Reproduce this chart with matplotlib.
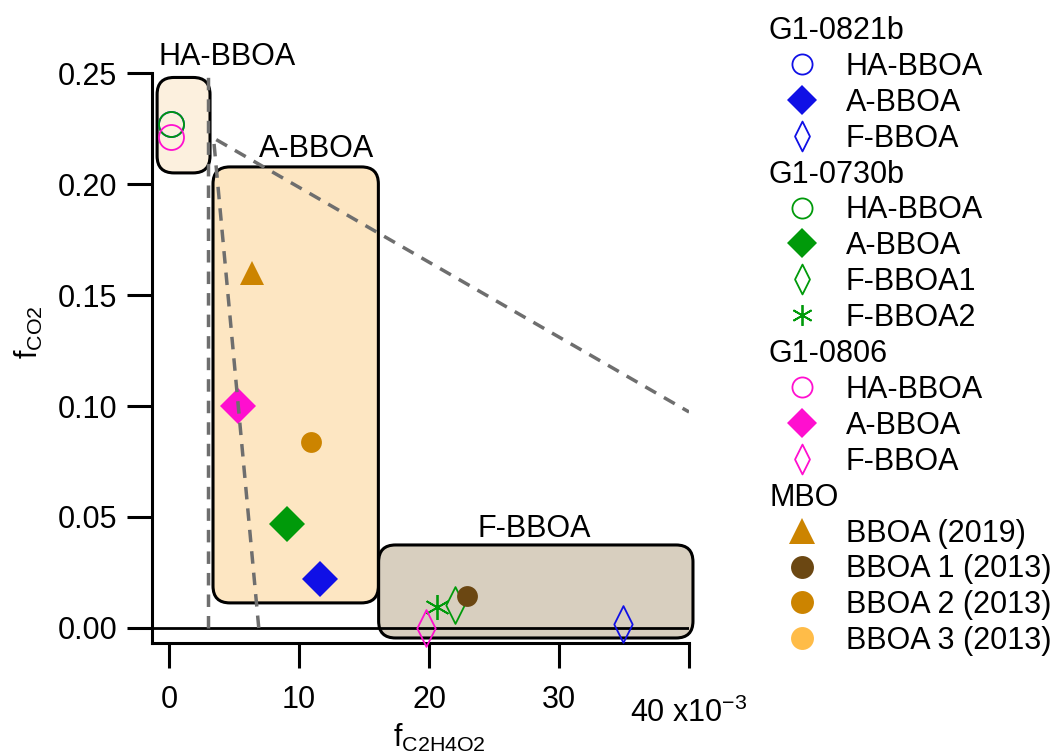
import numpy as np
import matplotlib
matplotlib.use("Agg")
import matplotlib.pyplot as plt
from matplotlib.patches import FancyBboxPatch
from matplotlib.path import Path
from matplotlib.ticker import FixedLocator, FormatStrFormatter

plt.rcParams['font.family'] = ['Liberation Sans', 'DejaVu Sans']
plt.rcParams['mathtext.fontset'] = 'custom'
plt.rcParams['mathtext.rm'] = 'Liberation Sans'
plt.rcParams['mathtext.it'] = 'Liberation Sans:italic'
plt.rcParams['mathtext.bf'] = 'Liberation Sans:bold'

# f_C2H4O2 in units of 10^-3, f_CO2 as fraction
g0821_names = ["HA-BBOA", "A-BBOA", "F-BBOA"]
g0821_x = [0.13, 11.6, 34.9]
g0821_y = [0.227, 0.022, 0.002]

g0730_names = ["HA-BBOA", "A-BBOA", "F-BBOA1", "F-BBOA2"]
g0730_x = [0.13, 9.1, 22.0, 20.6]
g0730_y = [0.227, 0.047, 0.0104, 0.0096]

g0806_names = ["HA-BBOA", "A-BBOA", "F-BBOA"]
g0806_x = [0.13, 5.3, 19.8]
g0806_y = [0.221, 0.100, 0.000]

mbo_names = ["BBOA (2019)", "BBOA 1 (2013)", "BBOA 2 (2013)", "BBOA 3 (2013)"]
mbo_x = [6.4, 22.9, 10.9, np.nan]
mbo_y = [0.160, 0.0144, 0.084, np.nan]

# factor regions: name, x0, x1, y0, y1
region_names = ["HA-BBOA", "A-BBOA", "F-BBOA"]
region_x0 = [-0.92, 3.38, 16.12]
region_x1 = [3.15, 16.1, 40.3]
region_y0 = [0.205, 0.0113, -0.0045]
region_y1 = [0.248, 0.2077, 0.0374]
region_colors = ["#FCF0DE", "#FDE6C2", "#D8CFBF"]

# background line and triangle guides
vline_x = [3.03, 3.03]
vline_y = [0.0, 0.25]
tri_x = [6.9, 3.42, 40.0]
tri_y = [0.0, 0.2207, 0.0973]

xticks = [0, 10, 20, 30, 40]
xticklabels = ["0", "10", "20", "30", r"40 x10$^{-3}$"]
yticks = [0.00, 0.05, 0.10, 0.15, 0.20, 0.25]

blue, green, magenta = "#1010E6", "#009A0A", "#FF0FCF"
mbo_colors = ["#CC8400", "#6B4712", "#CC8400", "#FFBC48"]

thin_diamond = Path([(0, 1), (0.5, 0), (0, -1), (-0.5, 0), (0, 1)],
                    [Path.MOVETO, Path.LINETO, Path.LINETO, Path.LINETO, Path.CLOSEPOLY])


def style(kind, color, legend=False):
    if kind == "open_circle":
        return dict(marker="o", mfc="none", mec=color, ms=14.5 if legend else 18, mew=1.3)
    if kind == "diamond":
        return dict(marker="D", mfc=color, mec=color, ms=15 if legend else 18.5, mew=0)
    if kind == "thin":
        return dict(marker=thin_diamond, mfc="none", mec=color, ms=21.5 if legend else 26.5, mew=1.3)
    if kind == "asterisk":
        return dict(marker=(6, 2, 0), mfc=color, mec=color, ms=15 if legend else 18, mew=1.3)
    if kind == "triangle":
        return dict(marker="^", mfc=color, mec=color, ms=19 if legend else 17, mew=0)
    return dict(marker="o", mfc=color, mec=color, ms=16.5 if legend else 15, mew=0)


groups = [
    ("G1-0821b", g0821_names, g0821_x, g0821_y, [blue] * 3,
     ["open_circle", "diamond", "thin"]),
    ("G1-0730b", g0730_names, g0730_x, g0730_y, [green] * 4,
     ["open_circle", "diamond", "thin", "asterisk"]),
    ("G1-0806", g0806_names, g0806_x, g0806_y, [magenta] * 3,
     ["open_circle", "diamond", "thin"]),
    ("MBO", mbo_names, mbo_x, mbo_y, mbo_colors,
     ["triangle", "filled_circle", "filled_circle", "filled_circle"]),
]

fig = plt.figure(figsize=(10.58, 7.52), dpi=100)
ax = fig.add_axes([0.1437, 0.1443, 0.5076, 0.7586])
ax.set_xlim(-1.31, 40)
ax.set_ylim(-0.00698, 0.25)

# rounded boxes: keep corners circular despite very different x/y scales
fig.canvas.draw()
p0 = ax.transData.transform((0, 0))
p1 = ax.transData.transform((1, 1))
aspect = (p1[0] - p0[0]) / (p1[1] - p0[1])
for x0, x1, y0, y1, c in zip(region_x0, region_x1, region_y0, region_y1, region_colors):
    box = FancyBboxPatch((x0, y0), x1 - x0, y1 - y0,
                         boxstyle="round,pad=0,rounding_size=1.3",
                         mutation_aspect=aspect, facecolor=c, edgecolor="black",
                         linewidth=2.2, zorder=1, clip_on=False)
    ax.add_patch(box)

ax.text(4.46, 0.2536, "HA-BBOA", fontsize=22, ha="center", va="baseline", clip_on=False)
ax.text(11.35, 0.2122, "A-BBOA", fontsize=22, ha="center", va="baseline")
ax.text(28.1, 0.0411, "F-BBOA", fontsize=22, ha="center", va="baseline")

ax.axhline(0, color="black", linewidth=2, zorder=2.5)

for title, names, xs, ys, colors, kinds in groups:
    for x, y, c, k in zip(xs, ys, colors, kinds):
        ax.plot([x], [y], linestyle="none", zorder=3, clip_on=False, **style(k, c))

ax.plot(vline_x, vline_y, color="#6E6E6E", linewidth=2.5, dashes=(3.6, 2.6), zorder=4)
ax.plot(tri_x, tri_y, color="#6E6E6E", linewidth=2.5, dashes=(3.6, 2.6), zorder=4)

for side in ["top", "right"]:
    ax.spines[side].set_visible(False)
for side in ["left", "bottom"]:
    ax.spines[side].set_linewidth(2.2)

# the last tick carries the axis multiplier and sits a little lower
ax.xaxis.set_major_locator(FixedLocator(xticks))
ax.set_xticklabels(xticklabels[:-1] + [""])
ax.text(xticks[-1], -0.1376, xticklabels[-1], fontsize=22, ha="center", va="baseline",
        transform=ax.get_xaxis_transform())
ax.yaxis.set_major_locator(FixedLocator(yticks))
ax.yaxis.set_major_formatter(FormatStrFormatter("%.2f"))
ax.tick_params(axis="both", direction="out", length=18, width=2.2, labelsize=22)
ax.tick_params(axis="x", pad=12)
ax.tick_params(axis="y", pad=7)

ax.set_xlabel(r"f$_{\mathrm{C2H4O2}}$", fontsize=22)
ax.set_ylabel(r"f$_{\mathrm{CO2}}$", fontsize=22)
ax.xaxis.set_label_coords(0.536, -0.138)
ax.yaxis.set_label_coords(-0.2, 0.546)

# grouped legend on the right, laid out in pixel coordinates
lax = fig.add_axes([0, 0, 1, 1])
lax.set_xlim(0, 1058)
lax.set_ylim(752, 0)
lax.axis("off")
lax.patch.set_alpha(0)

row = 0
for title, names, xs, ys, colors, kinds in groups:
    y = 28 + 35.9 * row
    lax.text(769, y + 11, title, fontsize=22, ha="left", va="baseline")
    row += 1
    for name, c, k in zip(names, colors, kinds):
        y = 28 + 35.9 * row
        lax.plot([802], [y], linestyle="none", **style(k, c, legend=True))
        lax.text(846, y + 11, name, fontsize=22, ha="left", va="baseline")
        row += 1

fig.savefig("out.png", dpi=100)
